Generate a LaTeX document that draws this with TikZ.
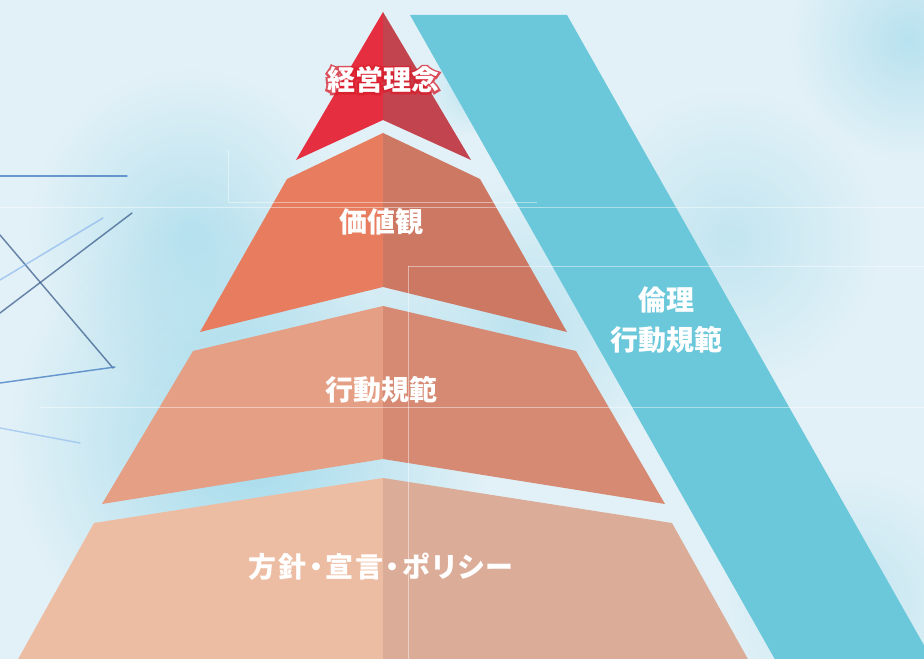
\documentclass[tikz,border=0pt]{standalone}
\usepackage{fontspec}
\newfontfamily\jp{Noto Sans CJK JP}
\newfontfamily\jpp{Noto Sans CJK JP}[RawFeature=+palt]
\newfontfamily\jpglow{Noto Sans CJK JP}[FakeBold=14, BoldFeatures={FakeBold=14}]
\usetikzlibrary{fadings}
\definecolor{bg}{HTML}{E2F1F7}
\definecolor{bgcyan}{HTML}{9CD8EA}
\definecolor{tAL}{HTML}{E52E3F}
\definecolor{tAR}{HTML}{C2444F}
\definecolor{tBL}{HTML}{E77D5E}
\definecolor{tBR}{HTML}{CD7863}
\definecolor{tCL}{HTML}{E59F85}
\definecolor{tCR}{HTML}{D68A73}
\definecolor{tDL}{HTML}{EDBDA3}
\definecolor{tDR}{HTML}{DBAC98}
\definecolor{band}{HTML}{6BC8DA}
\definecolor{glowred}{HTML}{D81E2C}
\definecolor{darkline}{HTML}{3D5F8E}
\definecolor{blueline}{HTML}{4A80C4}
\tikzfading[name=blob, inner color=transparent!0, outer color=transparent!100]
\newcommand\ksp{\kern1.7pt}
\tikzset{
  label/.style={text=white, inner sep=0pt, font=\jp\bfseries\fontsize{21}{30}\selectfont},
  glow/.style={inner sep=0pt, text=glowred, opacity=0.75, font=\jpglow\bfseries\fontsize{21}{30}\selectfont},
  faint/.style={draw=white, opacity=0.45, line width=0.6pt},
  bgline/.style={line width=1.1pt, line cap=round}
}
\begin{document}
\begin{tikzpicture}[x=0.75pt,y=-0.75pt]
\useasboundingbox (0,0) rectangle (924,659);
\begin{scope}
\clip (0,0) rectangle (924,659);
% background
\fill[bg] (0,0) rectangle (924,659);
\fill[bgcyan, opacity=0.9, path fading=blob] (250,440) circle (240);
\fill[bgcyan, opacity=0.6, path fading=blob] (190,230) circle (160);
\fill[bgcyan, opacity=0.55, path fading=blob] (520,330) circle (150);
\fill[bgcyan, opacity=0.6, path fading=blob] (910,40) circle (120);
\fill[bgcyan, opacity=0.45, path fading=blob] (730,240) circle (150);
\fill[bgcyan, opacity=0.45, path fading=blob] (850,600) circle (130);
\fill[bgcyan, opacity=0.5, path fading=blob] (470,90) circle (45);
% decorative lines on the left
\draw[bgline, blueline, opacity=0.8] (0,176) -- (127,176);
\draw[bgline, darkline, opacity=0.75] (0,235) -- (113,368);
\draw[bgline, darkline, opacity=0.75] (0,313) -- (132,213);
\draw[bgline, bgcyan!80!blue, opacity=0.6] (0,280) -- (103,218);
\draw[bgline, blueline, opacity=0.8] (0,383) -- (115,367);
\draw[bgline, bgcyan!80!blue, opacity=0.5] (0,428) -- (80,443);
% blue band
\fill[band] (410,15) -- (567,15) -- (938,670) -- (781,670) -- cycle;
% pyramid tiers
\fill[tAL] (383,12) -- (383,120) -- (296,160) -- cycle;
\fill[tAR] (383,12) -- (471,160) -- (383,120) -- cycle;
\fill[tBL] (383,133) -- (383,287) -- (200,332) -- (287,179) -- cycle;
\fill[tBR] (383,133) -- (480,179) -- (567,332) -- (383,287) -- cycle;
\fill[tCL] (383,306) -- (383,459) -- (102,504) -- (193,351) -- cycle;
\fill[tCR] (383,306) -- (576,351) -- (665,504) -- (383,459) -- cycle;
\fill[tDL] (383,478) -- (383,670) -- (12,670) -- (94,523) -- cycle;
\fill[tDR] (383,478) -- (672,523) -- (754,670) -- (383,670) -- cycle;
% faint background lines
\draw[faint] (0,207) -- (924,207);
\draw[faint] (228,202) -- (537,202);
\draw[faint] (228,150) -- (228,202);
\draw[faint] (408,266) -- (924,266);
\draw[faint] (408,266) -- (408,659);
\draw[faint] (40,407) -- (924,407);
\end{scope}
% labels
\node[glow] (rinenglow) at (383,80) {経営理念};
\node[label] (rinen) at (383,80) {経営理念};
\node[label] (kachi) at (381,222) {価値観};
\node[label] (kodo) at (381,390) {行動規範};
\node[label, font=\jpp\bfseries\fontsize{21}{30}\selectfont] (hoshin) at (381,567) {方\ksp 針\ksp ・\ksp 宣\ksp 言\ksp ・\ksp ポ\ksp リ\ksp シ\ksp ー};
\node[label, align=center] (rinri) at (666,320) {倫理\\行動規範};
\end{tikzpicture}
\end{document}
